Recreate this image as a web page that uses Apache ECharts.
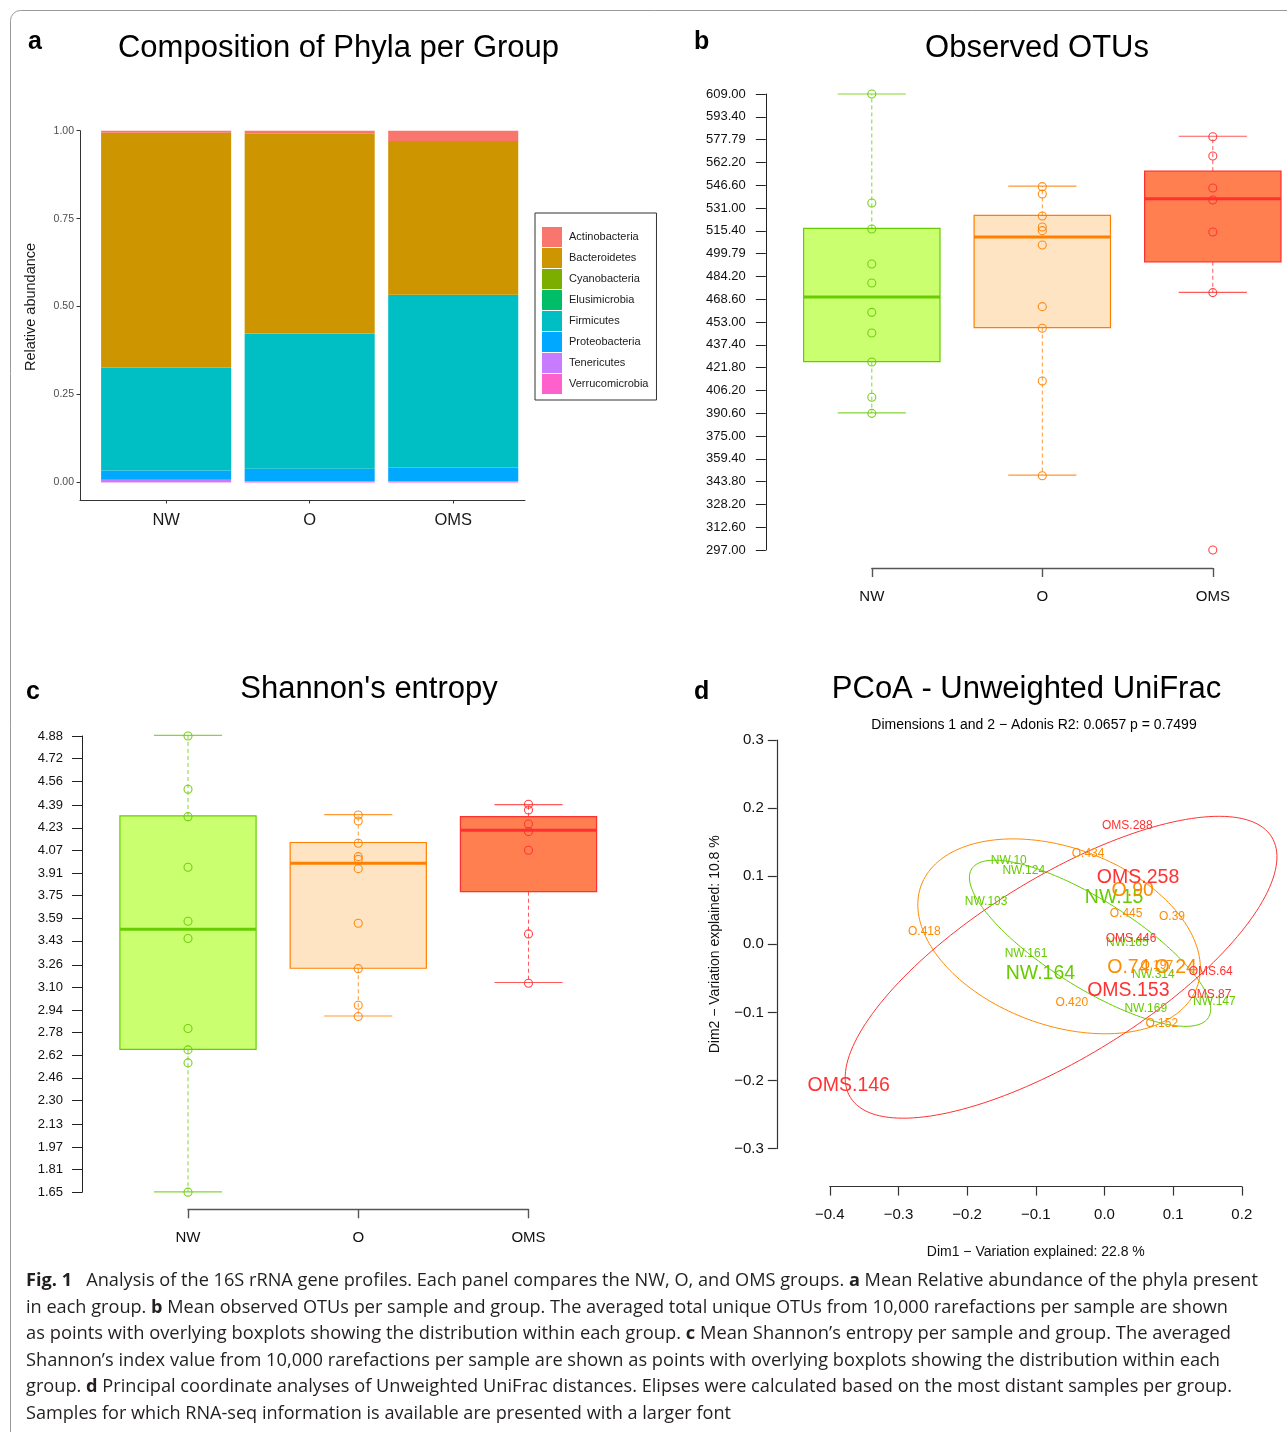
<!DOCTYPE html>
<html>
<head>
<meta charset="utf-8">
<script src="https://cdn.jsdelivr.net/npm/echarts@6.0.0/dist/echarts.min.js"></script>
<style>
html, body { margin: 0; padding: 0; background: #fff; }
#wrap { position: relative; width: 1287px; height: 1432px; overflow: hidden; }
#chart { position: absolute; left: 0; top: 0; width: 1287px; height: 1432px; }
#caption { position: absolute; left: 26px; top: 1266px; font-family: 'Open Sans', sans-serif; font-size: 17.5px; line-height: 26.6px; color: #231f20; }
#caption span { display: block; width: max-content; white-space: nowrap; transform-origin: 0 0; }
</style>
</head>
<body>
<div id="wrap">
  <div id="chart"></div>
  <div id="caption">
    <span><b>Fig. 1</b>&nbsp;&nbsp; Analysis of the 16S rRNA gene profiles. Each panel compares the NW, O, and OMS groups. <b>a</b> Mean Relative abundance of the phyla present</span>
    <span>in each group. <b>b</b> Mean observed OTUs per sample and group. The averaged total unique OTUs from 10,000 rarefactions per sample are shown</span>
    <span>as points with overlying boxplots showing the distribution within each group. <b>c</b> Mean Shannon’s entropy per sample and group. The averaged</span>
    <span>Shannon’s index value from 10,000 rarefactions per sample are shown as points with overlying boxplots showing the distribution within each</span>
    <span>group. <b>d</b> Principal coordinate analyses of Unweighted UniFrac distances. Elipses were calculated based on the most distant samples per group.</span>
    <span>Samples for which RNA-seq information is available are presented with a larger font</span>
  </div>
</div>
<script>
// ---- data ----
const groups = ['NW', 'O', 'OMS']
const groupPos = [1, 2, 3]

// a: mean relative abundance (NW, O, OMS)
const phyla = ['Actinobacteria', 'Bacteroidetes', 'Cyanobacteria', 'Elusimicrobia', 'Firmicutes', 'Proteobacteria', 'Tenericutes', 'Verrucomicrobia']
const phylaColors = ['#F8766D', '#CD9600', '#7CAE00', '#00BE67', '#00BFC4', '#00A9FF', '#C77CFF', '#FF61CC']
const actinobacteria = [0.0057, 0.009, 0.029]
const bacteroidetes = [0.667, 0.567, 0.437]
const cyanobacteria = [0.0016, 0.0005, 0.0005]
const elusimicrobia = [0.0003, 0.0005, 0.0005]
const firmicutes = [0.291, 0.384, 0.490]
const proteobacteria = [0.0265, 0.035, 0.0396]
const tenericutes = [0.0068, 0.001, 0.001]
const verrucomicrobia = [0.0008, 0.003, 0.002]
const abundanceTicks = [0, 0.25, 0.5, 0.75, 1]

// b: observed OTUs
const otuNW = [609.0, 534.4, 516.6, 492.7, 479.7, 459.6, 445.5, 425.6, 401.5, 390.5]
const otuO = [545.6, 540.6, 525.5, 518.0, 515.5, 505.7, 463.5, 448.7, 412.6, 347.8]
const otuOMS = [579.8, 566.6, 544.7, 536.5, 514.6, 473.1, 297.0]
// [lower whisker, q1, median, q3, upper whisker]
const otuBoxNW = [390.8, 425.9, 470.1, 517.0, 609.0]
const otuBoxO = [348.2, 449.2, 511.2, 526.0, 546.0]
const otuBoxOMS = [473.3, 494.2, 537.3, 556.2, 580.1]
const otuTicks = [297.00, 312.60, 328.20, 343.80, 359.40, 375.00, 390.60, 406.20, 421.80, 437.40, 453.00,
  468.60, 484.20, 499.79, 515.40, 531.00, 546.60, 562.20, 577.79, 593.40, 609.00]

// c: Shannon's entropy
const shanNW = [4.88, 4.503, 4.309, 3.951, 3.569, 3.447, 2.809, 2.658, 2.566, 1.651]
const shanO = [4.321, 4.278, 4.121, 4.026, 4.007, 3.941, 3.554, 3.233, 2.974, 2.894]
const shanOMS = [4.397, 4.356, 4.257, 4.203, 4.071, 3.479, 3.130]
const shanBoxNW = [1.653, 2.662, 3.512, 4.314, 4.884]
const shanBoxO = [2.898, 3.236, 3.979, 4.126, 4.323]
const shanBoxOMS = [3.135, 3.778, 4.213, 4.309, 4.394]
const shanTicks = [1.65, 1.81, 1.97, 2.13, 2.30, 2.46, 2.62, 2.78, 2.94, 3.10, 3.26,
  3.43, 3.59, 3.75, 3.91, 4.07, 4.23, 4.39, 4.56, 4.72, 4.88]

// d: PCoA sample labels [name, dim1, dim2, large font]
const pcoaNW = [
  ['NW.10', -0.1394, 0.1221, 0], ['NW.124', -0.1175, 0.1081, 0], ['NW.15', 0.0140, 0.0679, 1],
  ['NW.193', -0.1724, 0.0630, 0], ['NW.165', 0.0333, 0.0029, 0], ['NW.161', -0.1142, -0.0136, 0],
  ['NW.164', -0.0933, -0.0430, 1], ['NW.314', 0.0712, -0.0444, 0], ['NW.169', 0.0601, -0.0949, 0],
  ['NW.147', 0.1600, -0.0850, 0]
]
const pcoaO = [
  ['O.434', -0.0239, 0.1330, 0], ['O.90', 0.0412, 0.0792, 1], ['O.445', 0.0315, 0.0450, 0],
  ['O.39', 0.0984, 0.0411, 0], ['O.418', -0.2623, 0.0180, 0], ['O.197', 0.0762, -0.0308, 0],
  ['O.74', 0.0348, -0.0342, 1], ['O.24', 0.1038, -0.0342, 1], ['O.420', -0.0476, -0.0855, 0],
  ['O.152', 0.0834, -0.1173, 0]
]
const pcoaOMS = [
  ['OMS.288', 0.0333, 0.1735, 0], ['OMS.258', 0.0489, 0.0972, 1], ['OMS.446', 0.0387, 0.0078, 0],
  ['OMS.64', 0.1548, -0.0406, 0], ['OMS.153', 0.0348, -0.0685, 1], ['OMS.87', 0.1528, -0.0733, 0],
  ['OMS.146', -0.3724, -0.2078, 1]
]
// ellipses: [centre dim1, centre dim2, semi-major, semi-minor, angle deg]
const ellipseNW = [-0.0210, 0.0015, 0.204, 0.0642, -32.4]
const ellipseO = [-0.0661, 0.0117, 0.2143, 0.1299, -20.6]
const ellipseOMS = [-0.0632, -0.0337, 0.3615, 0.1315, 32]

const groupColors = ['#66CD00', '#FF7F00', '#FF3030']
const boxFill = ['#CAFF70', '#FFE4C4', '#FF7F50']
const pcoaColors = ['#66CC00', '#FF8C00', '#FF3333']

// ---- helpers ----
const FONT = '"Liberation Sans", Arial, sans-serif'
const phylaValues = [actinobacteria, bacteroidetes, cyanobacteria, elusimicrobia, firmicutes, proteobacteria, tenericutes, verrucomicrobia]
const barHalf = 0.453

function renderBar(params, api) {
  const x = api.value(0)
  const p0 = api.coord([x - barHalf, api.value(2)])
  const p1 = api.coord([x + barHalf, api.value(1)])
  return {
    type: 'rect',
    shape: { x: p0[0], y: p0[1], width: p1[0] - p0[0], height: p1[1] - p0[1] },
    style: { fill: api.visual('color') }
  }
}

const barSeries = []
let base = [0, 0, 0]
for (let k = phyla.length - 1; k >= 0; k--) {
  const vals = phylaValues[k]
  const data = groupPos.map((x, g) => [x, base[g], base[g] + vals[g]])
  base = base.map((b, g) => b + vals[g])
  barSeries.push({
    type: 'custom', name: phyla[k], xAxisIndex: 0, yAxisIndex: 0,
    itemStyle: { color: phylaColors[k] },
    encode: { x: 0, y: 2 }, data, renderItem: renderBar
  })
}

function renderBox(params, api) {
  const i = params.dataIndex
  const x = api.value(0)
  const lo = api.value(1), q1 = api.value(2), med = api.value(3), q3 = api.value(4), hi = api.value(5)
  const c = (a, b) => api.coord([a, b])
  const stroke = groupColors[i]
  const seg = (a, b, style) => {
    const p = c(a[0], a[1]), q = c(b[0], b[1])
    return { type: 'line', shape: { x1: p[0], y1: p[1], x2: q[0], y2: q[1] }, style }
  }
  const tl = c(x - 0.4, q3), br = c(x + 0.4, q1)
  return {
    type: 'group',
    children: [
      seg([x, q3], [x, hi], { stroke, lineWidth: 1, lineDash: [4, 3], opacity: 0.8 }),
      seg([x, q1], [x, lo], { stroke, lineWidth: 1, lineDash: [4, 3], opacity: 0.8 }),
      seg([x - 0.2, hi], [x + 0.2, hi], { stroke, lineWidth: 1.2, opacity: 0.8 }),
      seg([x - 0.2, lo], [x + 0.2, lo], { stroke, lineWidth: 1.2, opacity: 0.8 }),
      { type: 'rect', shape: { x: tl[0], y: tl[1], width: br[0] - tl[0], height: br[1] - tl[1] },
        style: { fill: boxFill[i], stroke, lineWidth: 1.2 } },
      seg([x - 0.4, med], [x + 0.4, med], { stroke, lineWidth: 3 })
    ]
  }
}

function boxPanel(axisIdx, boxes, points) {
  const list = [{
    type: 'custom', xAxisIndex: axisIdx, yAxisIndex: axisIdx, z: 2,
    encode: { x: 0, y: 3 },
    data: boxes.map((b, g) => [groupPos[g]].concat(b)),
    renderItem: renderBox
  }]
  points.forEach((vals, g) => {
    list.push({
      type: 'scatter', xAxisIndex: axisIdx, yAxisIndex: axisIdx, z: 3,
      symbol: 'circle', symbolSize: 8,
      itemStyle: { color: 'rgba(0,0,0,0)', borderColor: groupColors[g], borderWidth: 1.1, opacity: 0.9 },
      data: vals.map(v => [groupPos[g], v])
    })
  })
  return list
}

function ellipseSeries(e, color) {
  return {
    type: 'custom', xAxisIndex: 3, yAxisIndex: 3, z: 2,
    data: [e], encode: { x: 0, y: 1 },
    renderItem: (params, api) => {
      const cx = api.value(0), cy = api.value(1), a = api.value(2), b = api.value(3)
      const th = api.value(4) * Math.PI / 180
      const pts = []
      for (let s = 0; s <= 180; s++) {
        const t = s / 180 * Math.PI * 2
        const dx = a * Math.cos(t), dy = b * Math.sin(t)
        pts.push(api.coord([cx + dx * Math.cos(th) - dy * Math.sin(th), cy + dx * Math.sin(th) + dy * Math.cos(th)]))
      }
      return { type: 'polyline', shape: { points: pts }, style: { stroke: color, lineWidth: 1, fill: null } }
    }
  }
}

function labelSeries(rows, color) {
  return {
    type: 'custom', xAxisIndex: 3, yAxisIndex: 3, z: 4,
    data: rows.map(r => [r[1], r[2], r[3]]), encode: { x: 0, y: 1 },
    renderItem: (params, api) => {
      const p = api.coord([api.value(0), api.value(1)])
      const big = api.value(2) > 0
      return {
        type: 'text', x: p[0], y: p[1],
        style: { text: rows[params.dataIndex][0], fill: color, font: (big ? '19.5px ' : '12px ') + FONT, align: 'center', verticalAlign: 'middle' }
      }
    }
  }
}

const minusFmt = v => (Math.abs(v) < 1e-9 ? '0.0' : (v < 0 ? '\u2212' : '') + Math.abs(v).toFixed(1))

function boxXAxis(grid, offset) {
  return {
    gridIndex: grid, type: 'value', min: 1, max: 3, interval: 1, offset,
    splitLine: { show: false },
    axisLine: { onZero: false, lineStyle: { color: '#555', width: 1.4 } },
    axisTick: { length: 9, lineStyle: { color: '#555', width: 1.4 } },
    axisLabel: { formatter: v => groups[Math.round(v) - 1], fontSize: 15, margin: 21, color: '#111', fontFamily: FONT }
  }
}
function boxYAxis(grid, lo, hi, ticks, margin) {
  return {
    gridIndex: grid, type: 'value', min: lo, max: hi, offset: 106,
    splitLine: { show: false },
    axisLine: { show: true, onZero: false, lineStyle: { color: '#222', width: 1 } },
    axisTick: { show: true, customValues: ticks, length: 10, lineStyle: { color: '#222' } },
    axisLabel: { customValues: ticks, formatter: v => v.toFixed(2), fontSize: 13, margin, color: '#111', fontFamily: FONT }
  }
}

const txt = (text, x, y, font, extra) => ({
  type: 'text', x, y, silent: true,
  style: Object.assign({ text, font, fill: '#000', align: 'center', verticalAlign: 'middle' }, extra || {})
})

const option = {
  animation: false,
  backgroundColor: '#fff',
  graphic: [
    { type: 'rect', shape: { x: 10.5, y: 10.5, width: 1320, height: 1460, r: 10 }, style: { fill: null, stroke: '#9a9a9a', lineWidth: 1 }, silent: true },
    txt('a', 28, 42, 'bold 25px ' + FONT, { align: 'left' }),
    txt('b', 694, 42, 'bold 25px ' + FONT, { align: 'left' }),
    txt('c', 26, 692, 'bold 25px ' + FONT, { align: 'left' }),
    txt('d', 694, 692, 'bold 25px ' + FONT, { align: 'left' }),
    txt('Composition of Phyla per Group', 338.5, 48, '31px ' + FONT),
    txt('Observed OTUs', 1037, 48, '31px ' + FONT),
    txt("Shannon's entropy", 369, 689, '31px ' + FONT),
    txt('PCoA - Unweighted UniFrac', 1026.5, 689, '31px ' + FONT),
    txt('Dimensions 1 and 2 \u2212 Adonis R2: 0.0657 p = 0.7499', 1034, 725, '14px ' + FONT),
    { type: 'text', x: 31, y: 307, rotation: Math.PI / 2, silent: true,
      style: { text: 'Relative abundance', font: '14.5px ' + FONT, fill: '#1a1a1a', align: 'center', verticalAlign: 'middle' } }
  ],
  legend: {
    data: phyla, orient: 'vertical', left: 535, top: 213,
    itemWidth: 20, itemHeight: 20, itemGap: 1, icon: 'rect',
    padding: [14, 8, 6, 7], borderColor: '#333', borderWidth: 1,
    selectedMode: false,
    textStyle: { fontSize: 11, color: '#1a1a1a', fontFamily: FONT, padding: [0, 0, 0, 2] }
  },
  grid: [
    { left: 80, top: 130.7, width: 445, height: 369.3, outerBoundsMode: 'none' },
    { left: 871.8, top: 94, width: 341, height: 456, outerBoundsMode: 'none' },
    { left: 188, top: 736, width: 340.5, height: 456.3, outerBoundsMode: 'none' },
    { left: 829.8, top: 740, width: 412, height: 408.6, outerBoundsMode: 'none' }
  ],
  xAxis: [
    {
      gridIndex: 0, type: 'value', min: 0.4, max: 3.5,
      splitLine: { show: false },
      axisLine: { onZero: false, lineStyle: { color: '#333', width: 1 } },
      axisTick: { show: true, customValues: groupPos, length: 3.5, lineStyle: { color: '#333' } },
      axisLabel: { customValues: groupPos, formatter: v => groups[Math.round(v) - 1], fontSize: 16.5, margin: 12, color: '#1a1a1a', fontFamily: FONT }
    },
    boxXAxis(1, 18),
    boxXAxis(2, 17),
    {
      gridIndex: 3, type: 'value', min: -0.4, max: 0.2, interval: 0.1, offset: 38,
      splitLine: { show: false },
      axisLine: { onZero: false, lineStyle: { color: '#333', width: 1.2 } },
      axisTick: { length: 9, lineStyle: { color: '#333', width: 1.2 } },
      axisLabel: { formatter: minusFmt, fontSize: 15, margin: 21, color: '#111', fontFamily: FONT },
      name: 'Dim1 \u2212 Variation explained: 22.8 %', nameLocation: 'middle', nameGap: 59,
      nameTextStyle: { fontSize: 14, color: '#111', fontFamily: FONT }
    }
  ],
  yAxis: [
    {
      gridIndex: 0, type: 'value', min: -0.05, max: 1,
      splitLine: { show: false },
      axisLine: { show: true, onZero: false, lineStyle: { color: '#333', width: 1 } },
      axisTick: { show: true, customValues: abundanceTicks, length: 3.5, lineStyle: { color: '#333' } },
      axisLabel: { customValues: abundanceTicks, formatter: v => v.toFixed(2), fontSize: 10.5, margin: 6, color: '#4d4d4d', fontFamily: FONT }
    },
    boxYAxis(1, 297, 609, otuTicks, 20),
    boxYAxis(2, 1.65, 4.88, shanTicks, 19),
    {
      gridIndex: 3, type: 'value', min: -0.3, max: 0.3, interval: 0.1, offset: 53,
      splitLine: { show: false },
      axisLine: { show: true, onZero: false, lineStyle: { color: '#333', width: 1.2 } },
      axisTick: { show: true, length: 9, lineStyle: { color: '#333', width: 1.2 } },
      axisLabel: { formatter: minusFmt, fontSize: 15, margin: 13, color: '#111', fontFamily: FONT },
      name: 'Dim2 \u2212 Variation explained: 10.8 %', nameLocation: 'middle', nameGap: 55, nameRotate: 90,
      nameTextStyle: { fontSize: 14, color: '#111', fontFamily: FONT }
    }
  ],
  series: [
    ...barSeries,
    ...boxPanel(1, [otuBoxNW, otuBoxO, otuBoxOMS], [otuNW, otuO, otuOMS]),
    ...boxPanel(2, [shanBoxNW, shanBoxO, shanBoxOMS], [shanNW, shanO, shanOMS]),
    ellipseSeries(ellipseNW, pcoaColors[0]),
    ellipseSeries(ellipseO, pcoaColors[1]),
    ellipseSeries(ellipseOMS, pcoaColors[2]),
    labelSeries(pcoaNW, pcoaColors[0]),
    labelSeries(pcoaO, pcoaColors[1]),
    labelSeries(pcoaOMS, pcoaColors[2])
  ]
}

const chart = echarts.init(document.getElementById('chart'), null, { renderer: 'canvas' })
chart.setOption(option)

// fit caption lines to the widths of the printed caption
const captionWidths = [1232, 1202, 1205, 1194, 1206, 705]
function fitCaption() {
  document.querySelectorAll('#caption span').forEach((el, i) => {
    el.style.transform = 'none'
    const w = el.getBoundingClientRect().width
    if (w > 0) el.style.transform = 'scaleX(' + (captionWidths[i] / w) + ')'
  })
}
fitCaption()
if (document.fonts && document.fonts.ready) document.fonts.ready.then(fitCaption)
</script>
</body>
</html>
